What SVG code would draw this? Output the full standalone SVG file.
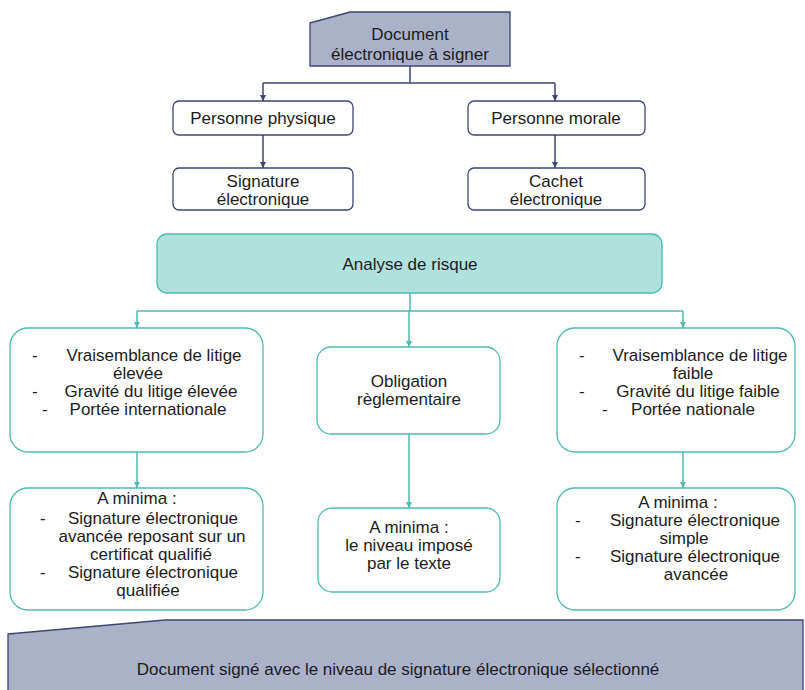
<svg xmlns="http://www.w3.org/2000/svg" width="805" height="690" viewBox="0 0 805 690">
<defs>
<style>
text{font-family:"Liberation Sans",Arial,sans-serif;font-size:17px;fill:#1c1c1c;}
.c{text-anchor:middle;}
.nav{fill:#abb1c9;stroke:#3b4676;stroke-width:1.3;}
.wn{fill:#fff;stroke:#3b4676;stroke-width:1.3;}
.tl{fill:#afe1dd;stroke:#4fbab1;stroke-width:1.3;}
.wt{fill:#fff;stroke:#4fbab1;stroke-width:1.3;}
.ln{fill:none;stroke:#3b4676;stroke-width:1.5;}
.lt{fill:none;stroke:#4fbab1;stroke-width:1.5;}
</style>
<marker id="an" viewBox="0 0 10 10" refX="10" refY="5" markerWidth="6" markerHeight="6" orient="auto" markerUnits="userSpaceOnUse"><path d="M0,0 L10,5 L0,10 z" fill="#3b4676"/></marker>
<marker id="at" viewBox="0 0 10 10" refX="10" refY="5" markerWidth="6" markerHeight="6" orient="auto" markerUnits="userSpaceOnUse"><path d="M0,0 L10,5 L0,10 z" fill="#4fbab1"/></marker>
</defs>
<rect width="805" height="690" fill="#fff"/>
<g id="connectors">
<path class="ln" d="M410,66 V83 M263,83 H555"/>
<path class="ln" d="M263,83 V101" marker-end="url(#an)"/>
<path class="ln" d="M555,83 V101" marker-end="url(#an)"/>
<path class="ln" d="M263,135 V168" marker-end="url(#an)"/>
<path class="ln" d="M555,135 V168" marker-end="url(#an)"/>
<path class="lt" d="M410,293 V311 M137,311 H683"/>
<path class="lt" d="M137,311 V328" marker-end="url(#at)"/>
<path class="lt" d="M409,311 V347" marker-end="url(#at)"/>
<path class="lt" d="M683,311 V328" marker-end="url(#at)"/>
<path class="lt" d="M137,452 V488" marker-end="url(#at)"/>
<path class="lt" d="M409,434 V508" marker-end="url(#at)"/>
<path class="lt" d="M683,452 V488" marker-end="url(#at)"/>
</g>
<g id="doc">
<polygon class="nav" points="310,23 350,12 510,12 510,66 310,66"/>
<text class="c" x="410" y="40">Document</text>
<text class="c" x="410" y="60">électronique à signer</text>
</g>
<g id="personne-physique">
<rect class="wn" x="173" y="101" width="180" height="34" rx="6"/>
<text class="c" x="263" y="124">Personne physique</text>
</g>
<g id="personne-morale">
<rect class="wn" x="468" y="101" width="177" height="34" rx="6"/>
<text class="c" x="556" y="124">Personne morale</text>
</g>
<g id="signature">
<rect class="wn" x="173" y="168" width="180" height="42" rx="6"/>
<text class="c" x="263" y="187">Signature</text>
<text class="c" x="263" y="205">électronique</text>
</g>
<g id="cachet">
<rect class="wn" x="468" y="168" width="177" height="42" rx="6"/>
<text class="c" x="556" y="187">Cachet</text>
<text class="c" x="556" y="205">électronique</text>
</g>
<g id="analyse">
<rect class="tl" x="157" y="234" width="505" height="59" rx="10"/>
<text class="c" x="410" y="270">Analyse de risque</text>
</g>
<g id="risque-eleve">
<rect class="wt" x="10" y="328" width="253" height="124" rx="18"/>
<text x="32" y="361">-</text><text class="c" x="154" y="361">Vraisemblance de litige</text>
<text class="c" x="138" y="379">élevée</text>
<text x="32" y="397">-</text><text class="c" x="151" y="397">Gravité du litige élevée</text>
<text x="42" y="415">-</text><text class="c" x="148" y="415">Portée internationale</text>
</g>
<g id="obligation">
<rect class="wt" x="317" y="347" width="183" height="87" rx="14"/>
<text class="c" x="409" y="387">Obligation</text>
<text class="c" x="409" y="405">règlementaire</text>
</g>
<g id="risque-faible">
<rect class="wt" x="557" y="328" width="238" height="124" rx="18"/>
<text x="579" y="361">-</text><text class="c" x="700" y="361">Vraisemblance de litige</text>
<text class="c" x="693" y="379">faible</text>
<text x="579" y="397">-</text><text class="c" x="698" y="397">Gravité du litige faible</text>
<text x="602" y="415">-</text><text class="c" x="693" y="415">Portée nationale</text>
</g>
<g id="minima-eleve">
<rect class="wt" x="10" y="488" width="253" height="122" rx="18"/>
<text class="c" x="137" y="504">A minima :</text>
<text x="40" y="524">-</text><text class="c" x="153" y="524">Signature électronique</text>
<text class="c" x="152" y="542">avancée reposant sur un</text>
<text class="c" x="151" y="560">certificat qualifié</text>
<text x="40" y="578">-</text><text class="c" x="153" y="578">Signature électronique</text>
<text class="c" x="148" y="596">qualifiée</text>
</g>
<g id="minima-texte">
<rect class="wt" x="318" y="508" width="182" height="84" rx="14"/>
<text class="c" x="409" y="533">A minima :</text>
<text class="c" x="409" y="551">le niveau imposé</text>
<text class="c" x="409" y="569">par le texte</text>
</g>
<g id="minima-faible">
<rect class="wt" x="557" y="488" width="238" height="122" rx="18"/>
<text class="c" x="678" y="508">A minima :</text>
<text x="575" y="526">-</text><text class="c" x="695" y="526">Signature électronique</text>
<text class="c" x="684" y="544">simple</text>
<text x="575" y="562">-</text><text class="c" x="695" y="562">Signature électronique</text>
<text class="c" x="696" y="580">avancée</text>
</g>
<g id="document-signe">
<polygon class="nav" points="8,634 165,620 803,620 803,700 8,700"/>
<text class="c" x="398" y="675">Document signé avec le niveau de signature électronique sélectionné</text>
</g>
</svg>
